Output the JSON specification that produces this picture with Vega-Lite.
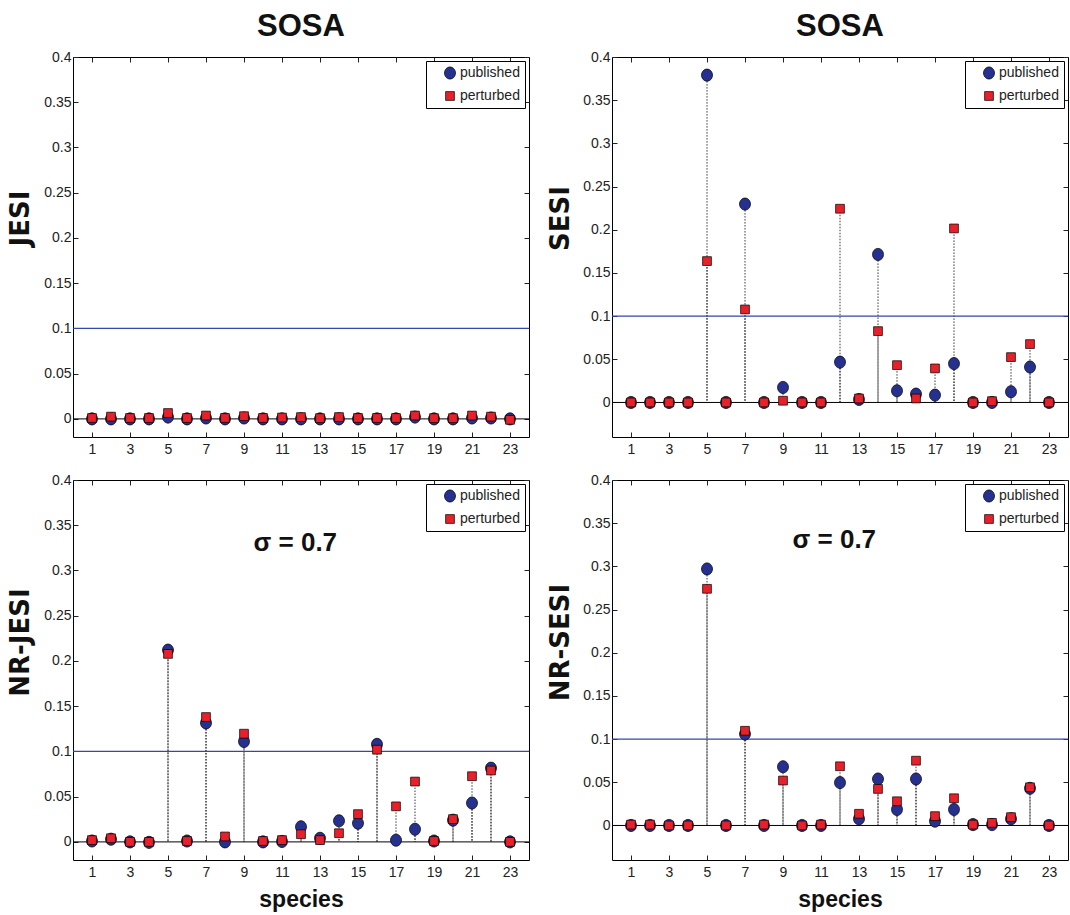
{
"$schema": "https://vega.github.io/schema/vega-lite/v6.json",
"background": "white",
"padding": {"left": 6, "top": 10, "right": 0, "bottom": 0},
"datasets": {"d": [
{"panel":"JESI","species":1,"series":"published","value":0},
{"panel":"JESI","species":2,"series":"published","value":0},
{"panel":"JESI","species":3,"series":"published","value":0},
{"panel":"JESI","species":4,"series":"published","value":0},
{"panel":"JESI","species":5,"series":"published","value":0.002},
{"panel":"JESI","species":6,"series":"published","value":0},
{"panel":"JESI","species":7,"series":"published","value":0.001},
{"panel":"JESI","species":8,"series":"published","value":0},
{"panel":"JESI","species":9,"series":"published","value":0.001},
{"panel":"JESI","species":10,"series":"published","value":0},
{"panel":"JESI","species":11,"series":"published","value":0},
{"panel":"JESI","species":12,"series":"published","value":0},
{"panel":"JESI","species":13,"series":"published","value":0},
{"panel":"JESI","species":14,"series":"published","value":0},
{"panel":"JESI","species":15,"series":"published","value":0},
{"panel":"JESI","species":16,"series":"published","value":0},
{"panel":"JESI","species":17,"series":"published","value":0},
{"panel":"JESI","species":18,"series":"published","value":0.002},
{"panel":"JESI","species":19,"series":"published","value":0},
{"panel":"JESI","species":20,"series":"published","value":0},
{"panel":"JESI","species":21,"series":"published","value":0.001},
{"panel":"JESI","species":22,"series":"published","value":0.001},
{"panel":"JESI","species":23,"series":"published","value":0},
{"panel":"SESI","species":1,"series":"published","value":0},
{"panel":"SESI","species":2,"series":"published","value":0},
{"panel":"SESI","species":3,"series":"published","value":0},
{"panel":"SESI","species":4,"series":"published","value":0},
{"panel":"SESI","species":5,"series":"published","value":0.379},
{"panel":"SESI","species":6,"series":"published","value":0},
{"panel":"SESI","species":7,"series":"published","value":0.2297},
{"panel":"SESI","species":8,"series":"published","value":0},
{"panel":"SESI","species":9,"series":"published","value":0.0174},
{"panel":"SESI","species":10,"series":"published","value":0},
{"panel":"SESI","species":11,"series":"published","value":0},
{"panel":"SESI","species":12,"series":"published","value":0.0467},
{"panel":"SESI","species":13,"series":"published","value":0.0035},
{"panel":"SESI","species":14,"series":"published","value":0.1714},
{"panel":"SESI","species":15,"series":"published","value":0.0135},
{"panel":"SESI","species":16,"series":"published","value":0.0097},
{"panel":"SESI","species":17,"series":"published","value":0.0085},
{"panel":"SESI","species":18,"series":"published","value":0.045},
{"panel":"SESI","species":19,"series":"published","value":0},
{"panel":"SESI","species":20,"series":"published","value":0},
{"panel":"SESI","species":21,"series":"published","value":0.0124},
{"panel":"SESI","species":22,"series":"published","value":0.041},
{"panel":"SESI","species":23,"series":"published","value":0},
{"panel":"NR-JESI","species":1,"series":"published","value":0.001},
{"panel":"NR-JESI","species":2,"series":"published","value":0.003},
{"panel":"NR-JESI","species":3,"series":"published","value":0},
{"panel":"NR-JESI","species":4,"series":"published","value":-0.0005},
{"panel":"NR-JESI","species":5,"series":"published","value":0.212},
{"panel":"NR-JESI","species":6,"series":"published","value":0.001},
{"panel":"NR-JESI","species":7,"series":"published","value":0.1315},
{"panel":"NR-JESI","species":8,"series":"published","value":0},
{"panel":"NR-JESI","species":9,"series":"published","value":0.111},
{"panel":"NR-JESI","species":10,"series":"published","value":0},
{"panel":"NR-JESI","species":11,"series":"published","value":0.0005},
{"panel":"NR-JESI","species":12,"series":"published","value":0.0167},
{"panel":"NR-JESI","species":13,"series":"published","value":0.004},
{"panel":"NR-JESI","species":14,"series":"published","value":0.0233},
{"panel":"NR-JESI","species":15,"series":"published","value":0.0207},
{"panel":"NR-JESI","species":16,"series":"published","value":0.1078},
{"panel":"NR-JESI","species":17,"series":"published","value":0.0019},
{"panel":"NR-JESI","species":18,"series":"published","value":0.014},
{"panel":"NR-JESI","species":19,"series":"published","value":0.001},
{"panel":"NR-JESI","species":20,"series":"published","value":0.024},
{"panel":"NR-JESI","species":21,"series":"published","value":0.043},
{"panel":"NR-JESI","species":22,"series":"published","value":0.0815},
{"panel":"NR-JESI","species":23,"series":"published","value":0},
{"panel":"NR-SESI","species":1,"series":"published","value":0},
{"panel":"NR-SESI","species":2,"series":"published","value":0},
{"panel":"NR-SESI","species":3,"series":"published","value":0},
{"panel":"NR-SESI","species":4,"series":"published","value":0},
{"panel":"NR-SESI","species":5,"series":"published","value":0.297},
{"panel":"NR-SESI","species":6,"series":"published","value":0},
{"panel":"NR-SESI","species":7,"series":"published","value":0.1058},
{"panel":"NR-SESI","species":8,"series":"published","value":0},
{"panel":"NR-SESI","species":9,"series":"published","value":0.068},
{"panel":"NR-SESI","species":10,"series":"published","value":0},
{"panel":"NR-SESI","species":11,"series":"published","value":0},
{"panel":"NR-SESI","species":12,"series":"published","value":0.0496},
{"panel":"NR-SESI","species":13,"series":"published","value":0.0077},
{"panel":"NR-SESI","species":14,"series":"published","value":0.0538},
{"panel":"NR-SESI","species":15,"series":"published","value":0.0185},
{"panel":"NR-SESI","species":16,"series":"published","value":0.0538},
{"panel":"NR-SESI","species":17,"series":"published","value":0.005},
{"panel":"NR-SESI","species":18,"series":"published","value":0.0185},
{"panel":"NR-SESI","species":19,"series":"published","value":0.001},
{"panel":"NR-SESI","species":20,"series":"published","value":0.001},
{"panel":"NR-SESI","species":21,"series":"published","value":0.0077},
{"panel":"NR-SESI","species":22,"series":"published","value":0.043},
{"panel":"NR-SESI","species":23,"series":"published","value":0},
{"panel":"JESI","species":1,"series":"perturbed","value":0.001},
{"panel":"JESI","species":2,"series":"perturbed","value":0.0025},
{"panel":"JESI","species":3,"series":"perturbed","value":0.001},
{"panel":"JESI","species":4,"series":"perturbed","value":0.001},
{"panel":"JESI","species":5,"series":"perturbed","value":0.0065},
{"panel":"JESI","species":6,"series":"perturbed","value":0.001},
{"panel":"JESI","species":7,"series":"perturbed","value":0.0037},
{"panel":"JESI","species":8,"series":"perturbed","value":0.001},
{"panel":"JESI","species":9,"series":"perturbed","value":0.003},
{"panel":"JESI","species":10,"series":"perturbed","value":0.001},
{"panel":"JESI","species":11,"series":"perturbed","value":0.0015},
{"panel":"JESI","species":12,"series":"perturbed","value":0.002},
{"panel":"JESI","species":13,"series":"perturbed","value":0.0008},
{"panel":"JESI","species":14,"series":"perturbed","value":0.002},
{"panel":"JESI","species":15,"series":"perturbed","value":0.001},
{"panel":"JESI","species":16,"series":"perturbed","value":0.001},
{"panel":"JESI","species":17,"series":"perturbed","value":0.001},
{"panel":"JESI","species":18,"series":"perturbed","value":0.0037},
{"panel":"JESI","species":19,"series":"perturbed","value":0.0008},
{"panel":"JESI","species":20,"series":"perturbed","value":0.0008},
{"panel":"JESI","species":21,"series":"perturbed","value":0.0037},
{"panel":"JESI","species":22,"series":"perturbed","value":0.0025},
{"panel":"JESI","species":23,"series":"perturbed","value":-0.001},
{"panel":"SESI","species":1,"series":"perturbed","value":0},
{"panel":"SESI","species":2,"series":"perturbed","value":0},
{"panel":"SESI","species":3,"series":"perturbed","value":0},
{"panel":"SESI","species":4,"series":"perturbed","value":0},
{"panel":"SESI","species":5,"series":"perturbed","value":0.1637},
{"panel":"SESI","species":6,"series":"perturbed","value":0},
{"panel":"SESI","species":7,"series":"perturbed","value":0.1077},
{"panel":"SESI","species":8,"series":"perturbed","value":0},
{"panel":"SESI","species":9,"series":"perturbed","value":0.002},
{"panel":"SESI","species":10,"series":"perturbed","value":0},
{"panel":"SESI","species":11,"series":"perturbed","value":0},
{"panel":"SESI","species":12,"series":"perturbed","value":0.2243},
{"panel":"SESI","species":13,"series":"perturbed","value":0.0046},
{"panel":"SESI","species":14,"series":"perturbed","value":0.0826},
{"panel":"SESI","species":15,"series":"perturbed","value":0.0432},
{"panel":"SESI","species":16,"series":"perturbed","value":0.0046},
{"panel":"SESI","species":17,"series":"perturbed","value":0.0394},
{"panel":"SESI","species":18,"series":"perturbed","value":0.2015},
{"panel":"SESI","species":19,"series":"perturbed","value":0},
{"panel":"SESI","species":20,"series":"perturbed","value":0.0015},
{"panel":"SESI","species":21,"series":"perturbed","value":0.0525},
{"panel":"SESI","species":22,"series":"perturbed","value":0.0676},
{"panel":"SESI","species":23,"series":"perturbed","value":0},
{"panel":"NR-JESI","species":1,"series":"perturbed","value":0.002},
{"panel":"NR-JESI","species":2,"series":"perturbed","value":0.004},
{"panel":"NR-JESI","species":3,"series":"perturbed","value":0},
{"panel":"NR-JESI","species":4,"series":"perturbed","value":0},
{"panel":"NR-JESI","species":5,"series":"perturbed","value":0.2078},
{"panel":"NR-JESI","species":6,"series":"perturbed","value":0.001},
{"panel":"NR-JESI","species":7,"series":"perturbed","value":0.138},
{"panel":"NR-JESI","species":8,"series":"perturbed","value":0.006},
{"panel":"NR-JESI","species":9,"series":"perturbed","value":0.1196},
{"panel":"NR-JESI","species":10,"series":"perturbed","value":0.001},
{"panel":"NR-JESI","species":11,"series":"perturbed","value":0.002},
{"panel":"NR-JESI","species":12,"series":"perturbed","value":0.0085},
{"panel":"NR-JESI","species":13,"series":"perturbed","value":0.002},
{"panel":"NR-JESI","species":14,"series":"perturbed","value":0.0096},
{"panel":"NR-JESI","species":15,"series":"perturbed","value":0.0307},
{"panel":"NR-JESI","species":16,"series":"perturbed","value":0.1019},
{"panel":"NR-JESI","species":17,"series":"perturbed","value":0.0393},
{"panel":"NR-JESI","species":18,"series":"perturbed","value":0.0667},
{"panel":"NR-JESI","species":19,"series":"perturbed","value":0.001},
{"panel":"NR-JESI","species":20,"series":"perturbed","value":0.0252},
{"panel":"NR-JESI","species":21,"series":"perturbed","value":0.0726},
{"panel":"NR-JESI","species":22,"series":"perturbed","value":0.0789},
{"panel":"NR-JESI","species":23,"series":"perturbed","value":0},
{"panel":"NR-SESI","species":1,"series":"perturbed","value":0.001},
{"panel":"NR-SESI","species":2,"series":"perturbed","value":0.001},
{"panel":"NR-SESI","species":3,"series":"perturbed","value":0},
{"panel":"NR-SESI","species":4,"series":"perturbed","value":0},
{"panel":"NR-SESI","species":5,"series":"perturbed","value":0.274},
{"panel":"NR-SESI","species":6,"series":"perturbed","value":0},
{"panel":"NR-SESI","species":7,"series":"perturbed","value":0.1096},
{"panel":"NR-SESI","species":8,"series":"perturbed","value":0.001},
{"panel":"NR-SESI","species":9,"series":"perturbed","value":0.052},
{"panel":"NR-SESI","species":10,"series":"perturbed","value":0},
{"panel":"NR-SESI","species":11,"series":"perturbed","value":0.001},
{"panel":"NR-SESI","species":12,"series":"perturbed","value":0.0685},
{"panel":"NR-SESI","species":13,"series":"perturbed","value":0.0135},
{"panel":"NR-SESI","species":14,"series":"perturbed","value":0.0423},
{"panel":"NR-SESI","species":15,"series":"perturbed","value":0.028},
{"panel":"NR-SESI","species":16,"series":"perturbed","value":0.075},
{"panel":"NR-SESI","species":17,"series":"perturbed","value":0.0108},
{"panel":"NR-SESI","species":18,"series":"perturbed","value":0.0315},
{"panel":"NR-SESI","species":19,"series":"perturbed","value":0.001},
{"panel":"NR-SESI","species":20,"series":"perturbed","value":0.003},
{"panel":"NR-SESI","species":21,"series":"perturbed","value":0.0096},
{"panel":"NR-SESI","species":22,"series":"perturbed","value":0.0442},
{"panel":"NR-SESI","species":23,"series":"perturbed","value":0}
]},
"columns": 2,
"spacing": {"row": 43, "column": 83},
"bounds": "flush",
"resolve": {"scale": {"color": "independent", "shape": "independent"}, "legend": {"color": "independent", "shape": "independent"}},
"concat": [
{
 "width": 456, "height": 380,
 "title": {"text": "SOSA"},
 "layer": [
  {"data": {"name": "d"}, "transform": [{"filter": "datum.panel === 'JESI'"}],
   "mark": {"type": "rule", "color": "#222", "strokeWidth": 0.9, "strokeDash": [1.5, 1.5]},
   "encoding": {
    "x": {"field": "species", "type": "quantitative", "scale": {"domain": [0, 24], "nice": false, "zero": false}, "axis": {"orient": "bottom", "values": [1,3,5,7,9,11,13,15,17,19,21,23], "title": null, "tickSize": -5, "labelPadding": 10}},
    "y": {"field": "value", "type": "quantitative", "scale": {"domain": [-0.02, 0.4], "nice": false, "zero": false}, "axis": {"orient": "left", "values": [0,0.05,0.1,0.15,0.2,0.25,0.3,0.35,0.4], "format": "~g", "title": "JESI", "titleX": -45, "titleY": 161, "tickSize": -5, "labelPadding": 7}},
    "y2": {"datum": 0}
   }},
  {"data": {"values": [{"level": 0}]},
   "mark": {"type": "rule", "color": "black", "strokeWidth": 1},
   "encoding": {"y": {"field": "level", "type": "quantitative", "axis": {"orient": "right", "values": [0,0.05,0.1,0.15,0.2,0.25,0.3,0.35,0.4], "labels": false, "title": null, "tickSize": -5}}}},
  {"data": {"values": [{"level": 0.1}]},
   "mark": {"type": "rule", "color": "#3446b0", "strokeWidth": 1.2},
   "encoding": {"y": {"field": "level", "type": "quantitative", "axis": null}}},
  {"data": {"name": "d"}, "transform": [{"filter": "datum.panel === 'JESI'"}],
   "mark": {"type": "point", "filled": true, "stroke": "black", "strokeWidth": 0.7, "opacity": 1, "size": 121},
   "encoding": {
    "x": {"field": "species", "type": "quantitative", "axis": {"orient": "top", "values": [1,3,5,7,9,11,13,15,17,19,21,23], "labels": false, "title": null, "tickSize": -5}},
    "y": {"field": "value", "type": "quantitative", "axis": null},
    "shape": {"field": "series", "type": "nominal", "scale": {"domain": ["published", "perturbed"], "range": ["M-1,0A1,1.1 0 1,1 1,0A1,1.1 0 1,1 -1,0Z", "M-0.8,-0.8H0.8V0.8H-0.8Z"]}, "legend": {"title": null, "orient": "top-right"}},
    "color": {"field": "series", "type": "nominal", "scale": {"domain": ["published", "perturbed"], "range": ["#26318f", "#e8202a"]}, "legend": {"title": null, "orient": "top-right"}}
   }}
 ]
},
{
 "width": 456, "height": 380,
 "title": {"text": "SOSA"},
 "layer": [
  {"data": {"name": "d"}, "transform": [{"filter": "datum.panel === 'SESI'"}],
   "mark": {"type": "rule", "color": "#222", "strokeWidth": 0.9, "strokeDash": [1.5, 1.5]},
   "encoding": {
    "x": {"field": "species", "type": "quantitative", "scale": {"domain": [0, 24], "nice": false, "zero": false}, "axis": {"orient": "bottom", "values": [1,3,5,7,9,11,13,15,17,19,21,23], "title": null, "tickSize": -5, "labelPadding": 10}},
    "y": {"field": "value", "type": "quantitative", "scale": {"domain": [-0.04, 0.4], "nice": false, "zero": false}, "axis": {"orient": "left", "values": [0,0.05,0.1,0.15,0.2,0.25,0.3,0.35,0.4], "format": "~g", "title": "SESI", "titleX": -44, "titleY": 161, "tickSize": -5, "labelPadding": 7}},
    "y2": {"datum": 0}
   }},
  {"data": {"values": [{"level": 0}]},
   "mark": {"type": "rule", "color": "black", "strokeWidth": 1},
   "encoding": {"y": {"field": "level", "type": "quantitative", "axis": {"orient": "right", "values": [0,0.05,0.1,0.15,0.2,0.25,0.3,0.35,0.4], "labels": false, "title": null, "tickSize": -5}}}},
  {"data": {"values": [{"level": 0.1}]},
   "mark": {"type": "rule", "color": "#3446b0", "strokeWidth": 1.2},
   "encoding": {"y": {"field": "level", "type": "quantitative", "axis": null}}},
  {"data": {"name": "d"}, "transform": [{"filter": "datum.panel === 'SESI'"}],
   "mark": {"type": "point", "filled": true, "stroke": "black", "strokeWidth": 0.7, "opacity": 1, "size": 121},
   "encoding": {
    "x": {"field": "species", "type": "quantitative", "axis": {"orient": "top", "values": [1,3,5,7,9,11,13,15,17,19,21,23], "labels": false, "title": null, "tickSize": -5}},
    "y": {"field": "value", "type": "quantitative", "axis": null},
    "shape": {"field": "series", "type": "nominal", "scale": {"domain": ["published", "perturbed"], "range": ["M-1,0A1,1.1 0 1,1 1,0A1,1.1 0 1,1 -1,0Z", "M-0.8,-0.8H0.8V0.8H-0.8Z"]}, "legend": {"title": null, "orient": "top-right"}},
    "color": {"field": "series", "type": "nominal", "scale": {"domain": ["published", "perturbed"], "range": ["#26318f", "#e8202a"]}, "legend": {"title": null, "orient": "top-right"}}
   }}
 ]
},
{
 "width": 456, "height": 380,
 "layer": [
  {"data": {"name": "d"}, "transform": [{"filter": "datum.panel === 'NR-JESI'"}],
   "mark": {"type": "rule", "color": "#222", "strokeWidth": 0.9, "strokeDash": [1.5, 1.5]},
   "encoding": {
    "x": {"field": "species", "type": "quantitative", "scale": {"domain": [0, 24], "nice": false, "zero": false}, "axis": {"orient": "bottom", "values": [1,3,5,7,9,11,13,15,17,19,21,23], "title": "species", "titleFont": "Liberation Sans", "titleFontSize": 23, "titleY": 46, "tickSize": -5, "labelPadding": 10}},
    "y": {"field": "value", "type": "quantitative", "scale": {"domain": [-0.02, 0.4], "nice": false, "zero": false}, "axis": {"orient": "left", "values": [0,0.05,0.1,0.15,0.2,0.25,0.3,0.35,0.4], "format": "~g", "title": "NR-JESI", "titleX": -45, "titleY": 162, "tickSize": -5, "labelPadding": 7}},
    "y2": {"datum": 0}
   }},
  {"data": {"values": [{"level": 0}]},
   "mark": {"type": "rule", "color": "black", "strokeWidth": 1},
   "encoding": {"y": {"field": "level", "type": "quantitative", "axis": {"orient": "right", "values": [0,0.05,0.1,0.15,0.2,0.25,0.3,0.35,0.4], "labels": false, "title": null, "tickSize": -5}}}},
  {"data": {"values": [{"level": 0.1}]},
   "mark": {"type": "rule", "color": "#3446b0", "strokeWidth": 1.2},
   "encoding": {"y": {"field": "level", "type": "quantitative", "axis": null}}},
  {"data": {"values": [{"note": "σ = 0.7"}]},
   "mark": {"type": "text", "fontSize": 26, "fontWeight": "bold", "font": "Liberation Sans", "color": "#111", "baseline": "middle"},
   "encoding": {"text": {"field": "note"}, "x": {"datum": 11.7, "axis": null}, "y": {"datum": 0.33, "axis": null}}},
  {"data": {"name": "d"}, "transform": [{"filter": "datum.panel === 'NR-JESI'"}],
   "mark": {"type": "point", "filled": true, "stroke": "black", "strokeWidth": 0.7, "opacity": 1, "size": 121},
   "encoding": {
    "x": {"field": "species", "type": "quantitative", "axis": {"orient": "top", "values": [1,3,5,7,9,11,13,15,17,19,21,23], "labels": false, "title": null, "tickSize": -5}},
    "y": {"field": "value", "type": "quantitative", "axis": null},
    "shape": {"field": "series", "type": "nominal", "scale": {"domain": ["published", "perturbed"], "range": ["M-1,0A1,1.1 0 1,1 1,0A1,1.1 0 1,1 -1,0Z", "M-0.8,-0.8H0.8V0.8H-0.8Z"]}, "legend": {"title": null, "orient": "top-right"}},
    "color": {"field": "series", "type": "nominal", "scale": {"domain": ["published", "perturbed"], "range": ["#26318f", "#e8202a"]}, "legend": {"title": null, "orient": "top-right"}}
   }}
 ]
},
{
 "width": 456, "height": 380,
 "layer": [
  {"data": {"name": "d"}, "transform": [{"filter": "datum.panel === 'NR-SESI'"}],
   "mark": {"type": "rule", "color": "#222", "strokeWidth": 0.9, "strokeDash": [1.5, 1.5]},
   "encoding": {
    "x": {"field": "species", "type": "quantitative", "scale": {"domain": [0, 24], "nice": false, "zero": false}, "axis": {"orient": "bottom", "values": [1,3,5,7,9,11,13,15,17,19,21,23], "title": "species", "titleFont": "Liberation Sans", "titleFontSize": 23, "titleY": 46, "tickSize": -5, "labelPadding": 10}},
    "y": {"field": "value", "type": "quantitative", "scale": {"domain": [-0.04, 0.4], "nice": false, "zero": false}, "axis": {"orient": "left", "values": [0,0.05,0.1,0.15,0.2,0.25,0.3,0.35,0.4], "format": "~g", "title": "NR-SESI", "titleX": -44, "titleY": 162, "tickSize": -5, "labelPadding": 7}},
    "y2": {"datum": 0}
   }},
  {"data": {"values": [{"level": 0}]},
   "mark": {"type": "rule", "color": "black", "strokeWidth": 1},
   "encoding": {"y": {"field": "level", "type": "quantitative", "axis": {"orient": "right", "values": [0,0.05,0.1,0.15,0.2,0.25,0.3,0.35,0.4], "labels": false, "title": null, "tickSize": -5}}}},
  {"data": {"values": [{"level": 0.1}]},
   "mark": {"type": "rule", "color": "#3446b0", "strokeWidth": 1.2},
   "encoding": {"y": {"field": "level", "type": "quantitative", "axis": null}}},
  {"data": {"values": [{"note": "σ = 0.7"}]},
   "mark": {"type": "text", "fontSize": 26, "fontWeight": "bold", "font": "Liberation Sans", "color": "#111", "baseline": "middle"},
   "encoding": {"text": {"field": "note"}, "x": {"datum": 11.7, "axis": null}, "y": {"datum": 0.33, "axis": null}}},
  {"data": {"name": "d"}, "transform": [{"filter": "datum.panel === 'NR-SESI'"}],
   "mark": {"type": "point", "filled": true, "stroke": "black", "strokeWidth": 0.7, "opacity": 1, "size": 121},
   "encoding": {
    "x": {"field": "species", "type": "quantitative", "axis": {"orient": "top", "values": [1,3,5,7,9,11,13,15,17,19,21,23], "labels": false, "title": null, "tickSize": -5}},
    "y": {"field": "value", "type": "quantitative", "axis": null},
    "shape": {"field": "series", "type": "nominal", "scale": {"domain": ["published", "perturbed"], "range": ["M-1,0A1,1.1 0 1,1 1,0A1,1.1 0 1,1 -1,0Z", "M-0.8,-0.8H0.8V0.8H-0.8Z"]}, "legend": {"title": null, "orient": "top-right"}},
    "color": {"field": "series", "type": "nominal", "scale": {"domain": ["published", "perturbed"], "range": ["#26318f", "#e8202a"]}, "legend": {"title": null, "orient": "top-right"}}
   }}
 ]
}
],
"config": {
 "view": {"stroke": "black", "strokeWidth": 1},
 "font": "Liberation Sans",
 "axis": {"labelFont": "Liberation Sans", "labelFontSize": 14, "labelColor": "#222", "tickColor": "#222", "tickWidth": 1, "domain": false, "grid": false, "titleFont": "DejaVu Sans", "titleFontSize": 26, "titleFontWeight": "bold", "titleColor": "#111", "titleBaseline": "alphabetic"},
 "title": {"font": "Liberation Sans", "fontSize": 31, "fontWeight": "bold", "color": "#111", "anchor": "middle", "offset": 7},
 "legend": {"offset": 4, "strokeColor": "black", "fillColor": "white", "padding": 5, "labelFontSize": 14, "labelFont": "Liberation Sans", "labelColor": "#222", "symbolSize": 121, "symbolStrokeColor": "black", "symbolStrokeWidth": 0.7, "rowPadding": 8, "symbolOffset": 12, "labelOffset": 3}
}
}
